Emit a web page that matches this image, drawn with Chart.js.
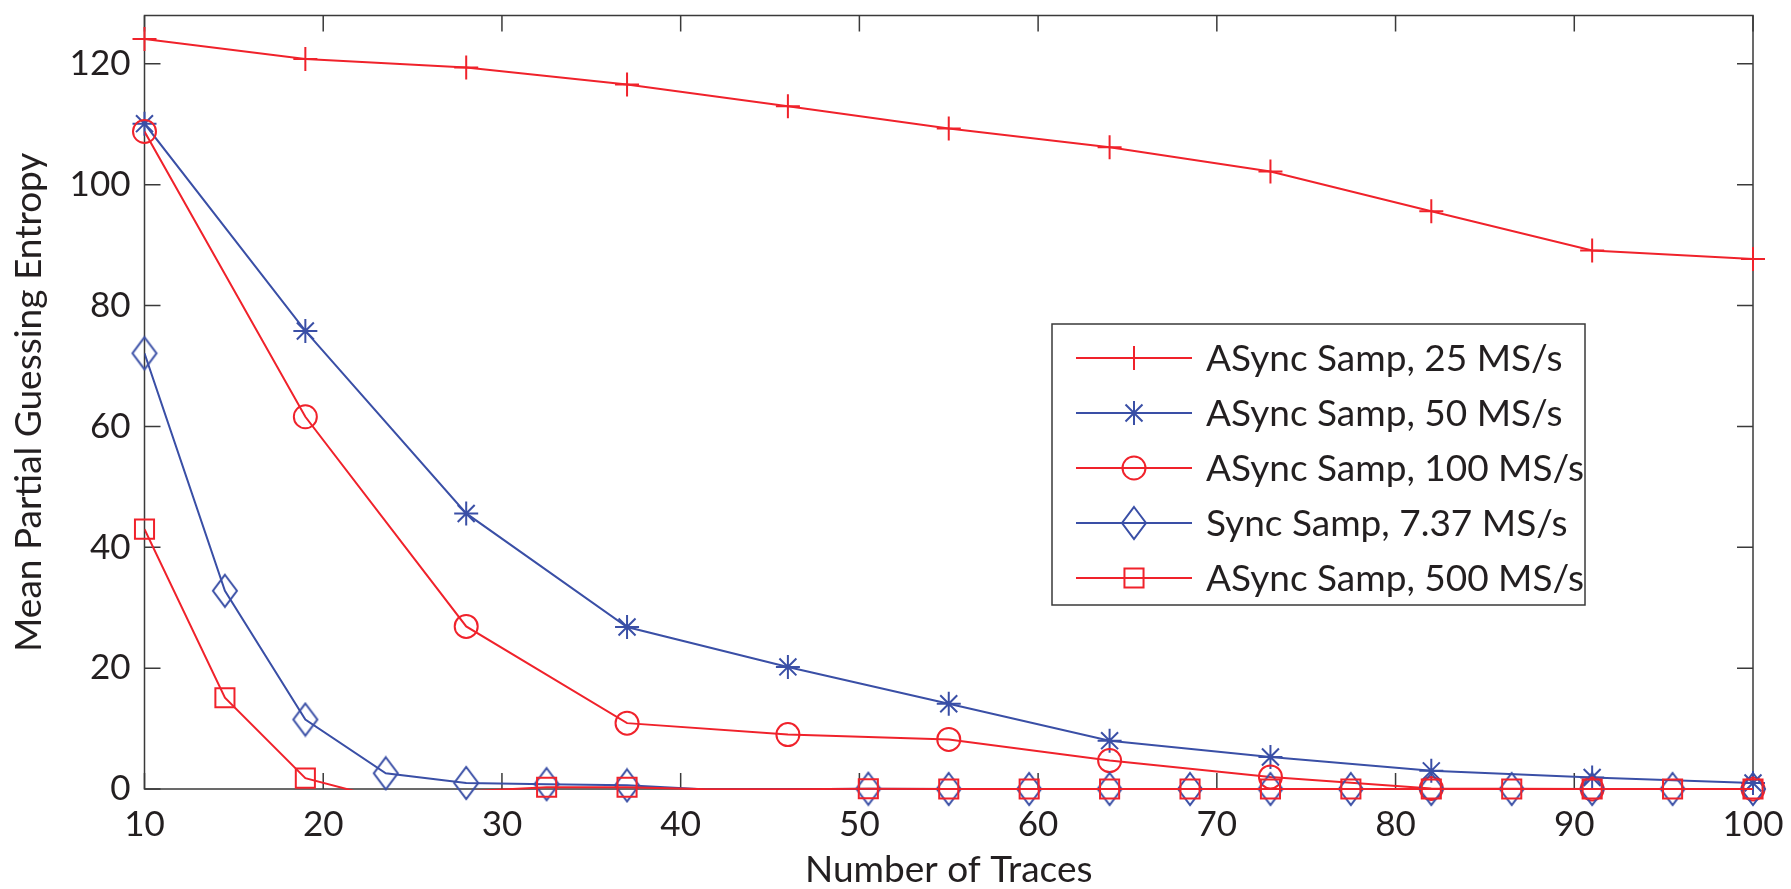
<!DOCTYPE html>
<html>
<head>
<meta charset="utf-8">
<script src="https://cdn.jsdelivr.net/npm/chart.js@4.4.1/dist/chart.umd.min.js"></script>
<style>
html, body { margin: 0; padding: 0; background: #fff; }
#chart { display: block; }
</style>
</head>
<body>
<canvas id="chart" width="1791" height="889"></canvas>
<script>
// number of traces, two sampling grids
var tracesA = [10, 19, 28, 37, 46, 55, 64, 73, 82, 91, 100];
var tracesB = [10, 14.5, 19, 23.5, 28, 32.5, 37, 41.5, 46, 50.5, 55, 59.5, 64, 68.5, 73, 77.5, 82, 86.5, 91, 95.5, 100];

// mean partial guessing entropy (values < 0 are clipped away like in the original)
var async25  = [124.1, 120.8, 119.4, 116.6, 113.0, 109.3, 106.2, 102.2, 95.6, 89.1, 87.7];
var async50  = [110.1, 75.8, 45.6, 26.8, 20.2, 14.1, 8.0, 5.3, 3.0, 1.9, 1.0];
var async100 = [108.8, 61.6, 26.9, 10.9, 9.0, 8.2, 4.7, 2.0, 0.1, 0, 0];
var sync737  = [72.1, 32.8, 11.5, 2.6, 1.0, 0.8, 0.6, -0.08, -0.03, 0.05, 0, 0, 0, 0, 0, 0, 0, 0, 0, 0, 0];
var async500 = [43.0, 15.1, 1.8, -1.7, -0.4, 0.3, 0.3, -0.05, -0.03, 0.05, 0, 0, 0, 0, 0, 0, 0, 0, 0, 0, 0];

var seriesNames = ['ASync Samp, 25 MS/s', 'ASync Samp, 50 MS/s', 'ASync Samp, 100 MS/s', 'Sync Samp, 7.37 MS/s', 'ASync Samp, 500 MS/s'];
var xTicks = [10, 20, 30, 40, 50, 60, 70, 80, 90, 100];
var yTicks = [0, 20, 40, 60, 80, 100, 120];

var RED = '#f0222b';
var BLUE = '#3a4fa6';
var INK = '#231f20';
var FONT = 'Lato';

// matlab diamond is taller than wide
function diamondMarker(color) {
  var c = document.createElement('canvas');
  c.width = 28; c.height = 36;
  var g = c.getContext('2d');
  g.strokeStyle = color;
  g.lineWidth = 2;
  g.beginPath();
  g.moveTo(14, 2); g.lineTo(26, 18); g.lineTo(14, 34); g.lineTo(2, 18);
  g.closePath();
  g.stroke();
  return c;
}

function pts(xs, ys) {
  return xs.map(function(x, i) { return { x: x, y: ys[i] }; });
}

var styles = [
  { data: pts(tracesA, async25),  color: RED,  marker: 'cross',  r: 12 },
  { data: pts(tracesA, async50),  color: BLUE, marker: 'star',   r: 12 },
  { data: pts(tracesA, async100), color: RED,  marker: 'circle', r: 11.5 },
  { data: pts(tracesB, sync737),  color: BLUE, marker: diamondMarker(BLUE), r: 12 },
  { data: pts(tracesB, async500), color: RED,  marker: 'rect',   r: 13.5 }
];

var datasets = [];
styles.forEach(function(s, i) {
  // line part, clipped at the axes
  datasets.push({
    label: seriesNames[i],
    data: s.data,
    borderColor: s.color,
    borderWidth: 2,
    pointRadius: 0,
    fill: false,
    tension: 0,
    clip: { left: 0, right: 0, top: 0, bottom: 1 },
    order: 20 - 2 * i
  });
  // markers, not clipped (hidden when below zero)
  datasets.push({
    label: seriesNames[i] + ' markers',
    data: s.data,
    showLine: false,
    pointStyle: s.marker,
    pointRadius: function(ctx) {
      return ctx.raw && ctx.raw.y < 0 ? 0 : s.r;
    },
    pointBorderColor: s.color,
    pointBackgroundColor: 'rgba(0,0,0,0)',
    pointBorderWidth: 2,
    clip: false,
    order: 19 - 2 * i
  });
});

var axesBox = {
  id: 'axesBox',
  beforeDatasetsDraw: function(chart) {
    var a = chart.chartArea, ctx = chart.ctx;
    var xs = chart.scales.x, ys = chart.scales.y;
    ctx.save();
    ctx.strokeStyle = '#3a3a3a';
    ctx.lineWidth = 1.5;
    ctx.strokeRect(a.left, a.top, a.right - a.left, a.bottom - a.top);
    ctx.beginPath();
    xTicks.forEach(function(v) {
      var px = xs.getPixelForValue(v);
      ctx.moveTo(px, a.bottom); ctx.lineTo(px, a.bottom - 16);
      ctx.moveTo(px, a.top); ctx.lineTo(px, a.top + 16);
    });
    yTicks.forEach(function(v) {
      var py = ys.getPixelForValue(v);
      ctx.moveTo(a.left, py); ctx.lineTo(a.left + 16, py);
      ctx.moveTo(a.right, py); ctx.lineTo(a.right - 16, py);
    });
    ctx.stroke();
    ctx.restore();
  }
};

var legendBox = {
  id: 'legendBox',
  afterDatasetsDraw: function(chart) {
    var ctx = chart.ctx;
    var bx = 1052, by = 324, bw = 533, bh = 281;
    ctx.save();
    ctx.fillStyle = '#fff';
    ctx.fillRect(bx, by, bw, bh);
    ctx.strokeStyle = '#3a3a3a';
    ctx.lineWidth = 1.5;
    ctx.strokeRect(bx, by, bw, bh);
    ctx.font = '37px ' + FONT;
    ctx.textBaseline = 'middle';
    ctx.textAlign = 'left';
    styles.forEach(function(s, i) {
      var y = 358 + i * 55;
      ctx.strokeStyle = s.color;
      ctx.lineWidth = 2;
      ctx.beginPath();
      ctx.moveTo(1076, y); ctx.lineTo(1192, y);
      ctx.stroke();
      ctx.fillStyle = 'rgba(0,0,0,0)';
      Chart.helpers.drawPoint(ctx, { pointStyle: s.marker, radius: s.r, borderWidth: 2, rotation: 0 }, 1134, y);
      ctx.fillStyle = INK;
      ctx.fillText(seriesNames[i], 1206, y + 1);
    });
    ctx.restore();
  }
};

new Chart(document.getElementById('chart'), {
  type: 'line',
  data: { datasets: datasets },
  options: {
    responsive: false,
    animation: false,
    events: [],
    layout: { padding: { left: 0, top: 8, right: 38, bottom: 0 } },
    plugins: { legend: { display: false }, tooltip: { enabled: false } },
    scales: {
      x: {
        type: 'linear',
        min: 10,
        max: 100,
        afterBuildTicks: function(scale) {
          scale.ticks = xTicks.map(function(v) { return { value: v }; });
        },
        afterFit: function(scale) {
          scale.height = 100;
          scale.paddingLeft = 0; scale.paddingRight = 0;
        },
        grid: { display: false, drawTicks: false },
        border: { display: false },
        ticks: { color: INK, font: { family: FONT, size: 35 }, padding: 15, maxRotation: 0 },
        title: {
          display: true, text: 'Number of Traces', color: INK,
          font: { family: FONT, size: 37, lineHeight: 1 }, padding: { top: 0, bottom: 0 }
        }
      },
      y: {
        min: 0,
        max: 128,
        afterBuildTicks: function(scale) {
          scale.ticks = yTicks.map(function(v) { return { value: v }; });
        },
        afterFit: function(scale) {
          scale.width = 144.5;
          scale.paddingTop = 0; scale.paddingBottom = 0;
        },
        grid: { display: false, drawTicks: false },
        border: { display: false },
        ticks: { color: INK, font: { family: FONT, size: 35 }, padding: 14 },
        title: {
          display: true, text: 'Mean Partial Guessing Entropy', color: INK,
          font: { family: FONT, size: 37, lineHeight: 1 }, padding: { top: 11, bottom: 0 }
        }
      }
    }
  },
  plugins: [axesBox, legendBox]
});
</script>
</body>
</html>
